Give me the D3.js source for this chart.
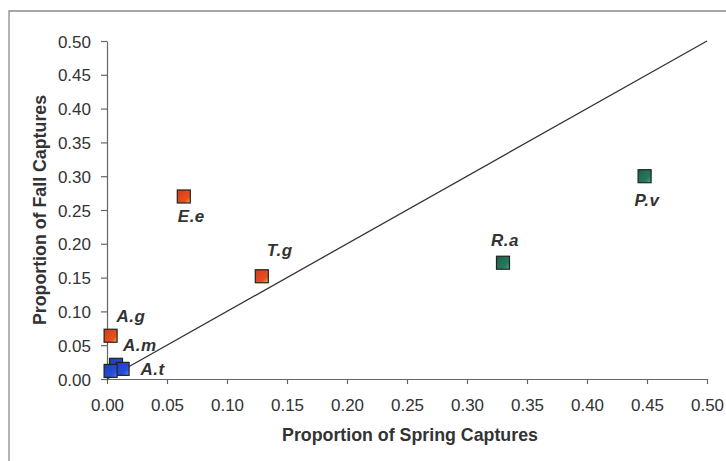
<!DOCTYPE html>
<html>
<head>
<meta charset="utf-8">
<script src="https://cdn.jsdelivr.net/npm/d3@7"></script>
<style>
  html, body { margin: 0; padding: 0; background: #fff; }
  svg { display: block; }
</style>
</head>
<body>
<script>
// Species capture proportions, spring (x) vs fall (y)
const species = ["A.g", "A.m", "A.t", "", "E.e", "T.g", "R.a", "P.v"];
const springValues = [0.003, 0.0075, 0.013, 0.003, 0.064, 0.129, 0.330, 0.448];
const fallValues = [0.064, 0.021, 0.015, 0.012, 0.270, 0.152, 0.172, 0.300];
const groups = ["orange", "blue", "blue", "blue", "orange", "orange", "green", "green"];
const tickValues = [0, 0.05, 0.1, 0.15, 0.2, 0.25, 0.3, 0.35, 0.4, 0.45, 0.5];

const W = 726, H = 461;
const svg = d3.select("body").append("svg").attr("width", W).attr("height", H);

const defs = svg.append("defs");
const palette = {
  orange: ["#f4b24a", "#e8501e", "#d8381a"],
  blue: ["#5a86f0", "#2550d8", "#1a3cc0"],
  green: ["#5aa482", "#267a5e", "#1c604a"]
};
Object.entries(palette).forEach(([k, c]) => {
  const g = defs.append("linearGradient").attr("id", "grad-" + k)
    .attr("x1", "100%").attr("y1", "100%").attr("x2", "0%").attr("y2", "0%");
  g.append("stop").attr("offset", "0%").attr("stop-color", c[0]);
  g.append("stop").attr("offset", "30%").attr("stop-color", c[1]);
  g.append("stop").attr("offset", "100%").attr("stop-color", c[2]);
});

// outer frame
svg.append("path").attr("d", `M9,${H} V11 H${W}`)
  .attr("fill", "none").attr("stroke", "#8a8a8a").attr("stroke-width", 1.3);

const x = d3.scaleLinear().domain([0, 0.5]).range([107, 707]);
const y = d3.scaleLinear().domain([0, 0.5]).range([379, 41]);

const fmt = d3.format(".2f");
const font = "Arial, 'Liberation Sans', sans-serif";

const xAxis = svg.append("g").attr("transform", `translate(0,${y(0)})`)
  .call(d3.axisBottom(x).tickValues(tickValues).tickFormat(fmt).tickSize(5).tickSizeOuter(0));
const yAxis = svg.append("g").attr("transform", `translate(${x(0)},0)`)
  .call(d3.axisLeft(y).tickValues(tickValues).tickFormat(fmt).tickSize(6).tickSizeOuter(0));

[xAxis, yAxis].forEach(a => {
  a.attr("font-size", null).attr("font-family", null);
  a.select(".domain").attr("stroke", "#666").attr("stroke-width", 1.2);
  a.selectAll(".tick line").attr("stroke", "#666").attr("stroke-width", 1.2);
  a.selectAll("text").style("font-family", font).style("font-size", "17px").attr("fill", "#333");
});
xAxis.selectAll("text").attr("y", 32).attr("dy", null);
yAxis.selectAll("text").attr("x", -16).attr("dy", "0.36em");

// 1:1 reference line
svg.append("line")
  .attr("x1", x(0)).attr("y1", y(0)).attr("x2", x(0.5)).attr("y2", y(0.5))
  .attr("stroke", "#333").attr("stroke-width", 1.3);

// axis titles
svg.append("text").attr("x", 410).attr("y", 441).attr("text-anchor", "middle")
  .style("font-family", font).attr("font-weight", "bold").style("font-size", "17.8px").attr("fill", "#333")
  .text("Proportion of Spring Captures");
svg.append("text").attr("transform", `translate(46,210) rotate(-90)`).attr("text-anchor", "middle")
  .style("font-family", font).attr("font-weight", "bold").style("font-size", "17.8px").attr("fill", "#333")
  .text("Proportion of Fall Captures");

// points (later squares overlap earlier ones)
const data = species.map((s, i) => ({ s, sx: springValues[i], fy: fallValues[i], g: groups[i] }));
const sz = 13;
svg.append("g").selectAll("rect").data(data).join("rect")
  .attr("x", d => x(d.sx) - sz / 2).attr("y", d => y(d.fy) - sz / 2)
  .attr("width", sz).attr("height", sz)
  .attr("fill", d => `url(#grad-${d.g})`)
  .attr("stroke", "#222").attr("stroke-width", 1.2);

// species labels
const labelOffsets = {
  "A.g": [6, -14], "A.m": [7, -14], "A.t": [18, 6], "E.e": [-6, 26],
  "T.g": [5, -20], "R.a": [-12, -17], "P.v": [-10, 30]
};
svg.append("g").selectAll("text").data(data.filter(d => d.s)).join("text")
  .attr("x", d => x(d.sx) + labelOffsets[d.s][0])
  .attr("y", d => y(d.fy) + labelOffsets[d.s][1])
  .style("font-family", font).attr("font-weight", "bold").attr("font-style", "italic")
  .style("font-size", "17px").style("letter-spacing", "0.5px").attr("fill", "#333")
  .text(d => d.s);
</script>
</body>
</html>
